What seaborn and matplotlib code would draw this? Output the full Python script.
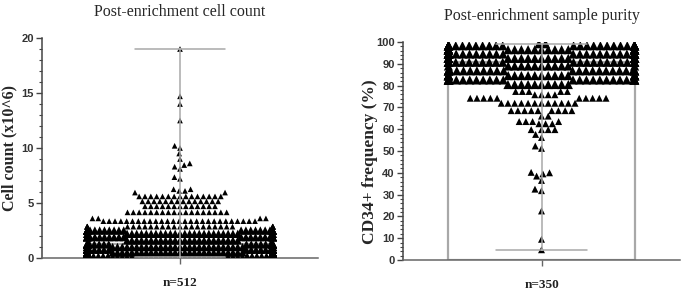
import numpy as np
import pandas as pd
import seaborn as sns
import matplotlib
matplotlib.use("Agg")
import matplotlib.pyplot as plt
from matplotlib.ticker import MultipleLocator

# post-enrichment cell count (x10^6), n=512 : row value -> number of samples
cell_values = [19.0, 14.7, 14.0, 12.5, 10.2, 10.0, 9.5, 9.0, 8.6, 8.45, 8.3, 8.1,
               7.35, 7.2, 6.25, 6.1, 5.95, 5.6, 5.15, 4.7, 4.15, 3.6, 3.35, 2.85,
               2.5, 2.2, 1.9, 1.6, 1.25, 1.0, 0.75, 0.5, 0.3, 0.15, 0.05]
cell_counts = [1, 1, 1, 1, 1, 1, 1, 1, 1, 1, 1, 1,
               1, 1, 2, 2, 2, 15, 14, 13, 18, 4, 27, 32,
               26, 28, 29, 24, 40, 36, 40, 44, 40, 34, 28]

# post-enrichment CD34+ frequency (%), n=350
purity_values = [4.7, 9.5, 22.5, 31.8, 32.5, 36.5, 38.5, 39.5, 40.0, 40.2, 51.2, 52.3,
                 56.2, 57.6, 59.8, 62.5, 63.5, 66.0, 68.5, 71.9, 74.2, 75.8, 77.3,
                 80.5, 82.6, 84.6, 86.8, 89.0, 90.7, 92.5, 94.5, 96.5, 98.3, 99.2]
purity_counts = [1, 1, 1, 1, 1, 1, 1, 1, 1, 1, 1, 1,
                 1, 1, 4, 3, 4, 2, 9, 12, 10, 4, 5,
                 10, 28, 28, 28, 12, 30, 36, 38, 38, 33, 2]

cells = pd.DataFrame({"group": "n=512", "value": np.repeat(cell_values, cell_counts)})
purity = pd.DataFrame({"group": "n=350", "value": np.repeat(purity_values, purity_counts)})

sns.set_style("ticks")
plt.rcParams["font.family"] = ["Liberation Serif", "DejaVu Serif"]

fig = plt.figure(figsize=(6.85, 2.91), dpi=100)
ax1 = fig.add_axes([42 / 685, 1 - 258 / 291, 276 / 685, 220 / 291])
ax2 = fig.add_axes([403 / 685, 1 - 260 / 291, 277 / 685, 218 / 291])

bar_grey = "#a8a8a8"


def draw(ax, df, ymax, major, minor, ylabel, label_size, label_y, title):
    sns.barplot(data=df, x="group", y="value", estimator="median",
                errorbar=lambda v: (v.min(), v.max()), capsize=0.39,
                fill=False, color=bar_grey, linewidth=1.6, width=0.8,
                err_kws={"color": bar_grey, "linewidth": 1.1, "zorder": 5}, ax=ax)
    sns.swarmplot(data=df, x="group", y="value", marker="^", color="black",
                  size=4, warn_thresh=1, zorder=3, ax=ax)
    ax.set_xlim(-0.595, 0.595)
    ax.set_ylim(0, ymax)
    ax.yaxis.set_major_locator(MultipleLocator(major))
    ax.yaxis.set_minor_locator(MultipleLocator(minor))
    ax.set_xlabel("")
    ax.set_ylabel(ylabel, fontsize=label_size, fontweight="bold")
    ax.yaxis.set_label_coords(-0.09, label_y)
    ax.set_title(title, fontsize=11.5, pad=16)
    sns.despine(ax=ax)
    ax.spines["left"].set_color("#444444")
    ax.spines["bottom"].set_color("#666666")
    ax.spines["left"].set_linewidth(1.1)
    ax.spines["bottom"].set_linewidth(1.1)
    ax.tick_params(axis="y", which="major", length=4, width=1, colors="#444444", pad=2)
    ax.tick_params(axis="y", which="minor", length=2, width=0.8, colors="#444444")
    ax.tick_params(axis="x", length=4, width=1, colors="#666666", pad=10)
    for t in ax.get_yticklabels():
        t.set_fontfamily("Liberation Sans")
        t.set_fontweight("bold")
        t.set_fontsize(8)
        t.set_color("#333333")
    for t in ax.get_xticklabels():
        t.set_fontweight("bold")
        t.set_fontsize(9.5)
        t.set_color("#222222")
    return ax.collections[-1]


pts1 = draw(ax1, cells, 20, 5, 1, "Cell count (x10^6)", 11.5, 0.5,
            "Post-enrichment cell count")
pts2 = draw(ax2, purity, 100, 10, 2, "CD34+ frequency (%)", 12.5, 0.45,
            "Post-enrichment sample purity")

# marker sizes (pt): spacing used by the swarm in the sparse / crowded parts,
# then drawn size in the sparse / crowded parts (crowded markers overlap)
styles = [(pts1, lambda v: v < 2.7, (4.0, 3.3), (4.1, 6.0)),
          (pts2, lambda v: v > 79, (4.6, 4.6), (5.0, 6.6))]
for pts, dense, spacing, _ in styles:
    vals = pts.get_offsets()[:, 1]
    pts.set_sizes(np.where(dense(vals), spacing[1], spacing[0]) ** 2)

# seaborn places the swarm on first draw; keep those positions afterwards
fig.canvas.draw()
for pts, dense, _, drawn in styles:
    del pts.draw
    vals = pts.get_offsets()[:, 1]
    pts.set_sizes(np.where(dense(vals), drawn[1], drawn[0]) ** 2)

fig.savefig("out.png", dpi=100)
